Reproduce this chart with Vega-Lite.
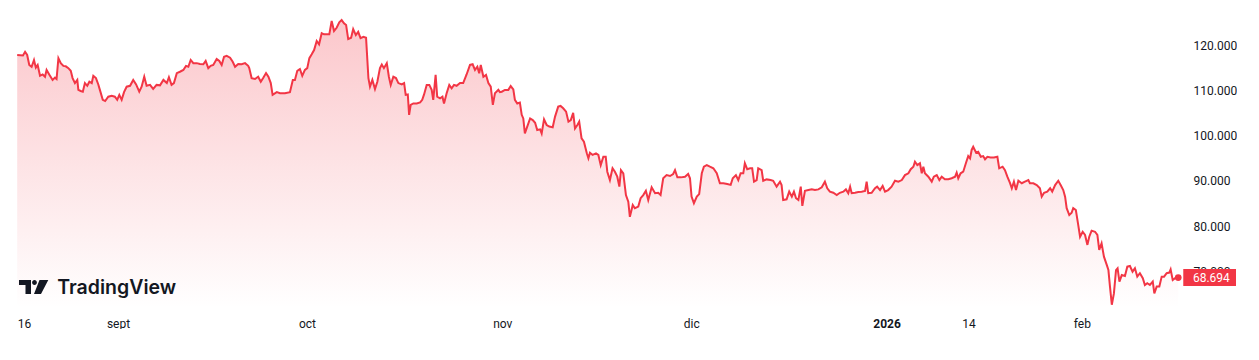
{
"$schema":"https://vega.github.io/schema/vega-lite/v6.json",
"width":1183,"height":308,"padding":0,
"autosize":{"type":"pad"},
"background":"#ffffff",
"config":{"view":{"stroke":null},"font":"Roboto","locale":{"number":{"decimal":",","thousands":".","grouping":[3],"currency":["","€"]}}},
"data":{"values":[
{"t":"2025-08-16T00:00Z","v":117800},{"t":"2025-08-16T22:00Z","v":117700},{"t":"2025-08-17T06:00Z","v":118500},{"t":"2025-08-17T14:00Z","v":117800},{"t":"2025-08-17T22:00Z","v":115600},{"t":"2025-08-18T07:00Z","v":115200},{"t":"2025-08-18T16:00Z","v":116700},{"t":"2025-08-18T23:00Z","v":115000},{"t":"2025-08-19T06:00Z","v":115600},{"t":"2025-08-19T15:00Z","v":113200},{"t":"2025-08-20T01:00Z","v":113500},{"t":"2025-08-20T10:00Z","v":113000},{"t":"2025-08-20T16:00Z","v":114500},{"t":"2025-08-21T02:00Z","v":113500},{"t":"2025-08-21T15:00Z","v":112300},{"t":"2025-08-22T00:00Z","v":112800},{"t":"2025-08-22T06:00Z","v":112500},{"t":"2025-08-22T13:00Z","v":117100},{"t":"2025-08-22T22:00Z","v":116000},{"t":"2025-08-23T08:00Z","v":115400},{"t":"2025-08-23T17:00Z","v":115300},{"t":"2025-08-24T03:00Z","v":114900},{"t":"2025-08-24T12:00Z","v":114300},{"t":"2025-08-24T19:00Z","v":112700},{"t":"2025-08-25T04:00Z","v":111600},{"t":"2025-08-25T13:00Z","v":112300},{"t":"2025-08-25T17:00Z","v":110100},{"t":"2025-08-26T02:00Z","v":109850},{"t":"2025-08-26T10:00Z","v":109700},{"t":"2025-08-26T18:00Z","v":111600},{"t":"2025-08-27T03:00Z","v":111000},{"t":"2025-08-27T11:00Z","v":111900},{"t":"2025-08-27T20:00Z","v":111600},{"t":"2025-08-28T02:00Z","v":113200},{"t":"2025-08-28T12:00Z","v":112700},{"t":"2025-08-28T21:00Z","v":111300},{"t":"2025-08-29T03:00Z","v":110100},{"t":"2025-08-29T14:00Z","v":107900},{"t":"2025-08-29T23:00Z","v":107650},{"t":"2025-08-30T11:00Z","v":108600},{"t":"2025-08-31T00:00Z","v":108800},{"t":"2025-08-31T12:00Z","v":108600},{"t":"2025-08-31T21:00Z","v":107900},
{"t":"2025-09-01T05:00Z","v":109000},{"t":"2025-09-01T14:00Z","v":107900},{"t":"2025-09-01T23:00Z","v":109600},{"t":"2025-09-02T09:00Z","v":110800},{"t":"2025-09-02T22:00Z","v":111000},{"t":"2025-09-03T10:00Z","v":112300},{"t":"2025-09-03T21:00Z","v":111300},{"t":"2025-09-04T09:00Z","v":109700},{"t":"2025-09-04T18:00Z","v":110800},{"t":"2025-09-05T04:00Z","v":113000},{"t":"2025-09-05T13:00Z","v":111000},{"t":"2025-09-06T02:00Z","v":111200},{"t":"2025-09-06T14:00Z","v":110300},{"t":"2025-09-07T03:00Z","v":111200},{"t":"2025-09-07T16:00Z","v":111100},{"t":"2025-09-08T05:00Z","v":112300},{"t":"2025-09-08T18:00Z","v":111600},{"t":"2025-09-09T02:00Z","v":112900},{"t":"2025-09-09T12:00Z","v":111200},{"t":"2025-09-09T21:00Z","v":111600},{"t":"2025-09-10T08:00Z","v":113800},{"t":"2025-09-10T20:00Z","v":114100},{"t":"2025-09-11T09:00Z","v":114500},{"t":"2025-09-11T19:00Z","v":115400},{"t":"2025-09-12T04:00Z","v":115200},{"t":"2025-09-12T13:00Z","v":116700},{"t":"2025-09-12T23:00Z","v":116000},{"t":"2025-09-13T12:00Z","v":116000},{"t":"2025-09-14T00:00Z","v":115800},{"t":"2025-09-14T13:00Z","v":115750},{"t":"2025-09-14T22:00Z","v":116500},{"t":"2025-09-15T08:00Z","v":114900},{"t":"2025-09-15T17:00Z","v":115400},{"t":"2025-09-16T03:00Z","v":115600},{"t":"2025-09-16T16:00Z","v":116900},{"t":"2025-09-17T02:00Z","v":116500},{"t":"2025-09-17T11:00Z","v":115600},{"t":"2025-09-17T20:00Z","v":117400},{"t":"2025-09-18T06:00Z","v":117600},{"t":"2025-09-18T19:00Z","v":117200},{"t":"2025-09-19T05:00Z","v":116300},{"t":"2025-09-19T14:00Z","v":115200},{"t":"2025-09-20T02:00Z","v":115800},{"t":"2025-09-20T15:00Z","v":115750},{"t":"2025-09-21T04:00Z","v":116000},{"t":"2025-09-21T16:00Z","v":115400},{"t":"2025-09-21T20:00Z","v":114900},{"t":"2025-09-22T05:00Z","v":112700},{"t":"2025-09-22T18:00Z","v":112500},{"t":"2025-09-23T06:00Z","v":113000},{"t":"2025-09-23T16:00Z","v":111900},{"t":"2025-09-24T01:00Z","v":112700},{"t":"2025-09-24T12:00Z","v":113800},{"t":"2025-09-24T21:00Z","v":113000},{"t":"2025-09-25T06:00Z","v":111600},{"t":"2025-09-25T13:00Z","v":109000},{"t":"2025-09-26T05:00Z","v":109600},{"t":"2025-09-26T17:00Z","v":109350},{"t":"2025-09-27T12:00Z","v":109350},{"t":"2025-09-28T07:00Z","v":109600},{"t":"2025-09-28T18:00Z","v":112300},{"t":"2025-09-29T02:00Z","v":112300},{"t":"2025-09-29T11:00Z","v":114300},{"t":"2025-09-29T21:00Z","v":114700},{"t":"2025-09-30T06:00Z","v":113200},{"t":"2025-09-30T16:00Z","v":114500},
{"t":"2025-10-01T01:00Z","v":114900},{"t":"2025-10-01T09:00Z","v":117100},{"t":"2025-10-01T18:00Z","v":117950},{"t":"2025-10-02T03:00Z","v":118900},{"t":"2025-10-02T13:00Z","v":120900},{"t":"2025-10-02T22:00Z","v":120150},{"t":"2025-10-03T08:00Z","v":122600},{"t":"2025-10-03T17:00Z","v":122350},{"t":"2025-10-04T03:00Z","v":122350},{"t":"2025-10-04T13:00Z","v":122350},{"t":"2025-10-04T22:00Z","v":125300},{"t":"2025-10-05T07:00Z","v":123100},{"t":"2025-10-05T17:00Z","v":123800},{"t":"2025-10-06T03:00Z","v":125000},{"t":"2025-10-06T12:00Z","v":125500},{"t":"2025-10-06T21:00Z","v":124800},{"t":"2025-10-07T05:00Z","v":124400},{"t":"2025-10-07T13:00Z","v":121300},{"t":"2025-10-08T00:00Z","v":121600},{"t":"2025-10-08T08:00Z","v":123500},{"t":"2025-10-08T18:00Z","v":122200},{"t":"2025-10-09T03:00Z","v":122900},{"t":"2025-10-09T12:00Z","v":121500},{"t":"2025-10-09T23:00Z","v":121800},{"t":"2025-10-10T09:00Z","v":121600},{"t":"2025-10-10T18:00Z","v":112700},{"t":"2025-10-11T00:00Z","v":110800},{"t":"2025-10-11T09:00Z","v":112300},{"t":"2025-10-11T19:00Z","v":110300},{"t":"2025-10-12T04:00Z","v":111900},{"t":"2025-10-12T14:00Z","v":114900},{"t":"2025-10-12T21:00Z","v":115700},{"t":"2025-10-13T05:00Z","v":114900},{"t":"2025-10-13T16:00Z","v":116000},{"t":"2025-10-14T00:00Z","v":113000},{"t":"2025-10-14T07:00Z","v":111200},{"t":"2025-10-14T17:00Z","v":113000},{"t":"2025-10-15T03:00Z","v":112700},{"t":"2025-10-15T12:00Z","v":111600},{"t":"2025-10-16T01:00Z","v":111300},{"t":"2025-10-16T10:00Z","v":111600},{"t":"2025-10-16T16:00Z","v":109000},{"t":"2025-10-17T00:00Z","v":109100},{"t":"2025-10-17T05:00Z","v":104600},{"t":"2025-10-17T11:00Z","v":106800},{"t":"2025-10-17T21:00Z","v":107100},{"t":"2025-10-18T10:00Z","v":107100},{"t":"2025-10-18T23:00Z","v":107350},{"t":"2025-10-19T07:00Z","v":107900},{"t":"2025-10-19T14:00Z","v":109100},{"t":"2025-10-20T00:00Z","v":111200},{"t":"2025-10-20T10:00Z","v":111200},{"t":"2025-10-20T19:00Z","v":110100},{"t":"2025-10-21T01:00Z","v":107900},{"t":"2025-10-21T10:00Z","v":113400},{"t":"2025-10-21T16:00Z","v":108600},{"t":"2025-10-22T03:00Z","v":108250},{"t":"2025-10-22T12:00Z","v":108600},{"t":"2025-10-22T18:00Z","v":107100},{"t":"2025-10-23T04:00Z","v":109350},{"t":"2025-10-23T14:00Z","v":111200},{"t":"2025-10-23T23:00Z","v":110450},{"t":"2025-10-24T08:00Z","v":111200},{"t":"2025-10-24T18:00Z","v":111000},{"t":"2025-10-25T07:00Z","v":111600},{"t":"2025-10-25T19:00Z","v":111600},{"t":"2025-10-26T08:00Z","v":113500},{"t":"2025-10-26T21:00Z","v":115600},{"t":"2025-10-27T07:00Z","v":115750},{"t":"2025-10-27T16:00Z","v":114500},{"t":"2025-10-28T01:00Z","v":115200},{"t":"2025-10-28T08:00Z","v":113750},{"t":"2025-10-28T14:00Z","v":115600},{"t":"2025-10-29T00:00Z","v":113000},{"t":"2025-10-29T10:00Z","v":113400},{"t":"2025-10-29T19:00Z","v":111600},{"t":"2025-10-30T04:00Z","v":110800},{"t":"2025-10-30T12:00Z","v":106800},{"t":"2025-10-30T20:00Z","v":109350},{"t":"2025-10-31T09:00Z","v":110100},{"t":"2025-10-31T15:00Z","v":109600},{"t":"2025-10-31T22:00Z","v":109700},
{"t":"2025-11-01T10:00Z","v":110100},{"t":"2025-11-01T23:00Z","v":110100},{"t":"2025-11-02T08:00Z","v":110950},{"t":"2025-11-02T18:00Z","v":110200},{"t":"2025-11-03T00:00Z","v":107900},{"t":"2025-11-03T09:00Z","v":107100},{"t":"2025-11-03T19:00Z","v":107300},{"t":"2025-11-04T02:00Z","v":104600},{"t":"2025-11-04T08:00Z","v":103800},{"t":"2025-11-04T14:00Z","v":100500},{"t":"2025-11-04T23:00Z","v":102000},{"t":"2025-11-05T10:00Z","v":103800},{"t":"2025-11-05T20:00Z","v":103450},{"t":"2025-11-06T05:00Z","v":102850},{"t":"2025-11-06T13:00Z","v":101250},{"t":"2025-11-07T00:00Z","v":101400},{"t":"2025-11-07T06:00Z","v":100500},{"t":"2025-11-07T15:00Z","v":103600},{"t":"2025-11-08T01:00Z","v":102350},{"t":"2025-11-08T11:00Z","v":102000},{"t":"2025-11-09T00:00Z","v":101850},{"t":"2025-11-09T09:00Z","v":104200},{"t":"2025-11-09T21:00Z","v":106400},{"t":"2025-11-10T06:00Z","v":106550},{"t":"2025-11-10T16:00Z","v":106050},{"t":"2025-11-11T03:00Z","v":105300},{"t":"2025-11-11T12:00Z","v":103100},{"t":"2025-11-11T21:00Z","v":103450},{"t":"2025-11-12T06:00Z","v":105050},{"t":"2025-11-12T13:00Z","v":101600},{"t":"2025-11-12T22:00Z","v":102350},{"t":"2025-11-13T05:00Z","v":103100},{"t":"2025-11-13T14:00Z","v":99400},{"t":"2025-11-13T23:00Z","v":98650},{"t":"2025-11-14T10:00Z","v":96100},{"t":"2025-11-14T16:00Z","v":95000},{"t":"2025-11-14T22:00Z","v":96250},{"t":"2025-11-15T08:00Z","v":95750},{"t":"2025-11-15T21:00Z","v":96100},{"t":"2025-11-16T06:00Z","v":95750},{"t":"2025-11-16T15:00Z","v":93500},{"t":"2025-11-17T01:00Z","v":95350},{"t":"2025-11-17T10:00Z","v":95350},{"t":"2025-11-17T16:00Z","v":92050},{"t":"2025-11-18T02:00Z","v":90200},{"t":"2025-11-18T12:00Z","v":92800},{"t":"2025-11-18T21:00Z","v":92050},{"t":"2025-11-19T06:00Z","v":90950},{"t":"2025-11-19T14:00Z","v":88750},{"t":"2025-11-19T20:00Z","v":92400},{"t":"2025-11-20T05:00Z","v":91700},{"t":"2025-11-20T15:00Z","v":86900},{"t":"2025-11-21T00:00Z","v":85450},{"t":"2025-11-21T06:00Z","v":82100},{"t":"2025-11-21T17:00Z","v":84700},{"t":"2025-11-22T01:00Z","v":84000},{"t":"2025-11-22T14:00Z","v":84350},{"t":"2025-11-22T23:00Z","v":86200},{"t":"2025-11-23T09:00Z","v":86900},{"t":"2025-11-23T19:00Z","v":87850},{"t":"2025-11-24T04:00Z","v":85800},{"t":"2025-11-24T17:00Z","v":88600},{"t":"2025-11-25T06:00Z","v":87300},{"t":"2025-11-25T18:00Z","v":87400},{"t":"2025-11-26T03:00Z","v":86900},{"t":"2025-11-26T13:00Z","v":90600},{"t":"2025-11-27T02:00Z","v":91300},{"t":"2025-11-27T15:00Z","v":91100},{"t":"2025-11-28T03:00Z","v":91550},{"t":"2025-11-28T10:00Z","v":92400},{"t":"2025-11-28T19:00Z","v":90800},{"t":"2025-11-29T08:00Z","v":90800},{"t":"2025-11-30T00:00Z","v":90950},{"t":"2025-11-30T12:00Z","v":91550},{"t":"2025-11-30T19:00Z","v":90600},
{"t":"2025-12-01T01:00Z","v":86550},{"t":"2025-12-01T10:00Z","v":85100},{"t":"2025-12-01T21:00Z","v":86550},{"t":"2025-12-02T06:00Z","v":87100},{"t":"2025-12-02T16:00Z","v":91700},{"t":"2025-12-03T00:00Z","v":93150},{"t":"2025-12-03T11:00Z","v":93500},{"t":"2025-12-03T23:00Z","v":93150},{"t":"2025-12-04T12:00Z","v":92800},{"t":"2025-12-05T01:00Z","v":91700},{"t":"2025-12-05T13:00Z","v":89500},{"t":"2025-12-06T02:00Z","v":89500},{"t":"2025-12-06T17:00Z","v":89350},{"t":"2025-12-07T06:00Z","v":89150},{"t":"2025-12-07T14:00Z","v":90600},{"t":"2025-12-08T02:00Z","v":91300},{"t":"2025-12-08T11:00Z","v":90200},{"t":"2025-12-08T20:00Z","v":91700},{"t":"2025-12-09T06:00Z","v":91700},{"t":"2025-12-09T12:00Z","v":93900},{"t":"2025-12-09T21:00Z","v":92600},{"t":"2025-12-10T08:00Z","v":92800},{"t":"2025-12-10T16:00Z","v":92800},{"t":"2025-12-10T23:00Z","v":89850},{"t":"2025-12-11T09:00Z","v":90200},{"t":"2025-12-11T15:00Z","v":92800},{"t":"2025-12-12T04:00Z","v":92400},{"t":"2025-12-12T10:00Z","v":90050},{"t":"2025-12-12T23:00Z","v":90350},{"t":"2025-12-13T14:00Z","v":90200},{"t":"2025-12-14T00:00Z","v":90050},{"t":"2025-12-14T13:00Z","v":88750},{"t":"2025-12-15T02:00Z","v":89850},{"t":"2025-12-15T08:00Z","v":89100},{"t":"2025-12-15T14:00Z","v":85800},{"t":"2025-12-16T03:00Z","v":85950},{"t":"2025-12-16T13:00Z","v":87650},{"t":"2025-12-16T23:00Z","v":86550},{"t":"2025-12-17T07:00Z","v":87650},{"t":"2025-12-17T15:00Z","v":86200},{"t":"2025-12-18T00:00Z","v":85800},{"t":"2025-12-18T09:00Z","v":88750},{"t":"2025-12-18T15:00Z","v":84500},{"t":"2025-12-19T01:00Z","v":87850},{"t":"2025-12-19T14:00Z","v":88000},{"t":"2025-12-20T03:00Z","v":88150},{"t":"2025-12-20T15:00Z","v":88000},{"t":"2025-12-21T04:00Z","v":88150},{"t":"2025-12-21T17:00Z","v":88600},{"t":"2025-12-22T05:00Z","v":89850},{"t":"2025-12-22T14:00Z","v":88400},{"t":"2025-12-23T00:00Z","v":87650},{"t":"2025-12-23T13:00Z","v":87400},{"t":"2025-12-24T02:00Z","v":86900},{"t":"2025-12-24T14:00Z","v":87400},{"t":"2025-12-25T03:00Z","v":87650},{"t":"2025-12-25T13:00Z","v":88150},{"t":"2025-12-25T22:00Z","v":87300},{"t":"2025-12-26T05:00Z","v":88750},{"t":"2025-12-26T11:00Z","v":87300},{"t":"2025-12-27T00:00Z","v":87400},{"t":"2025-12-27T12:00Z","v":87550},{"t":"2025-12-28T01:00Z","v":87650},{"t":"2025-12-28T14:00Z","v":87800},{"t":"2025-12-28T20:00Z","v":89850},{"t":"2025-12-29T02:00Z","v":87300},{"t":"2025-12-29T15:00Z","v":87400},{"t":"2025-12-30T04:00Z","v":88400},{"t":"2025-12-30T12:00Z","v":88750},{"t":"2025-12-30T23:00Z","v":88000},{"t":"2025-12-31T09:00Z","v":88900},{"t":"2025-12-31T18:00Z","v":87650},
{"t":"2026-01-01T06:00Z","v":88000},{"t":"2026-01-01T19:00Z","v":88750},{"t":"2026-01-02T08:00Z","v":90050},{"t":"2026-01-02T21:00Z","v":89850},{"t":"2026-01-03T10:00Z","v":90200},{"t":"2026-01-03T22:00Z","v":91300},{"t":"2026-01-04T11:00Z","v":91700},{"t":"2026-01-04T20:00Z","v":92600},{"t":"2026-01-05T06:00Z","v":93150},{"t":"2026-01-05T12:00Z","v":94250},{"t":"2026-01-05T21:00Z","v":93500},{"t":"2026-01-06T07:00Z","v":93900},{"t":"2026-01-06T14:00Z","v":91700},{"t":"2026-01-06T20:00Z","v":93150},{"t":"2026-01-07T02:00Z","v":91700},{"t":"2026-01-07T15:00Z","v":90950},{"t":"2026-01-08T04:00Z","v":89850},{"t":"2026-01-08T12:00Z","v":90950},{"t":"2026-01-08T23:00Z","v":91300},{"t":"2026-01-09T09:00Z","v":90200},{"t":"2026-01-09T18:00Z","v":90950},{"t":"2026-01-10T06:00Z","v":90400},{"t":"2026-01-10T19:00Z","v":90400},{"t":"2026-01-11T08:00Z","v":90600},{"t":"2026-01-11T21:00Z","v":90950},{"t":"2026-01-12T03:00Z","v":91850},{"t":"2026-01-12T09:00Z","v":90600},{"t":"2026-01-12T18:00Z","v":91700},{"t":"2026-01-13T04:00Z","v":92050},{"t":"2026-01-13T14:00Z","v":93900},{"t":"2026-01-13T23:00Z","v":95500},{"t":"2026-01-14T06:00Z","v":95000},{"t":"2026-01-14T12:00Z","v":96850},{"t":"2026-01-14T18:00Z","v":97550},{"t":"2026-01-15T05:00Z","v":96250},{"t":"2026-01-15T13:00Z","v":96450},{"t":"2026-01-15T23:00Z","v":95350},{"t":"2026-01-16T08:00Z","v":95500},{"t":"2026-01-16T15:00Z","v":94800},{"t":"2026-01-17T00:00Z","v":95350},{"t":"2026-01-17T12:00Z","v":95200},{"t":"2026-01-18T01:00Z","v":95200},{"t":"2026-01-18T14:00Z","v":95350},{"t":"2026-01-18T21:00Z","v":92800},{"t":"2026-01-19T10:00Z","v":93150},{"t":"2026-01-19T19:00Z","v":92400},{"t":"2026-01-20T04:00Z","v":90950},{"t":"2026-01-20T14:00Z","v":89600},{"t":"2026-01-20T21:00Z","v":88400},{"t":"2026-01-21T05:00Z","v":89850},{"t":"2026-01-21T13:00Z","v":88000},{"t":"2026-01-21T22:00Z","v":90050},{"t":"2026-01-22T11:00Z","v":89500},{"t":"2026-01-22T23:00Z","v":89850},{"t":"2026-01-23T12:00Z","v":90200},{"t":"2026-01-23T18:00Z","v":89500},{"t":"2026-01-24T07:00Z","v":89500},{"t":"2026-01-24T20:00Z","v":89100},{"t":"2026-01-25T08:00Z","v":88400},{"t":"2026-01-25T15:00Z","v":86550},{"t":"2026-01-26T00:00Z","v":87400},{"t":"2026-01-26T12:00Z","v":87650},{"t":"2026-01-26T23:00Z","v":88400},{"t":"2026-01-27T07:00Z","v":87650},{"t":"2026-01-27T18:00Z","v":89100},{"t":"2026-01-28T06:00Z","v":90050},{"t":"2026-01-28T15:00Z","v":89100},{"t":"2026-01-29T01:00Z","v":88000},{"t":"2026-01-29T08:00Z","v":86550},{"t":"2026-01-29T14:00Z","v":84000},{"t":"2026-01-30T00:00Z","v":82500},{"t":"2026-01-30T09:00Z","v":83000},{"t":"2026-01-30T15:00Z","v":84000},{"t":"2026-01-31T01:00Z","v":83600},{"t":"2026-01-31T10:00Z","v":80300},{"t":"2026-01-31T17:00Z","v":77700},
{"t":"2026-02-01T03:00Z","v":78800},{"t":"2026-02-01T12:00Z","v":78100},{"t":"2026-02-01T21:00Z","v":75900},{"t":"2026-02-02T04:00Z","v":77700},{"t":"2026-02-02T13:00Z","v":79050},{"t":"2026-02-03T02:00Z","v":78800},{"t":"2026-02-03T11:00Z","v":78100},{"t":"2026-02-03T18:00Z","v":74800},{"t":"2026-02-04T03:00Z","v":76250},{"t":"2026-02-04T12:00Z","v":73300},{"t":"2026-02-04T23:00Z","v":71450},{"t":"2026-02-05T05:00Z","v":70350},{"t":"2026-02-05T11:00Z","v":66700},{"t":"2026-02-05T18:00Z","v":62700},{"t":"2026-02-06T02:00Z","v":65200},{"t":"2026-02-06T10:00Z","v":70350},{"t":"2026-02-06T16:00Z","v":70750},{"t":"2026-02-06T23:00Z","v":67800},{"t":"2026-02-07T08:00Z","v":69250},{"t":"2026-02-07T20:00Z","v":69050},{"t":"2026-02-08T05:00Z","v":71100},{"t":"2026-02-08T15:00Z","v":71250},{"t":"2026-02-09T01:00Z","v":70000},{"t":"2026-02-09T10:00Z","v":70750},{"t":"2026-02-09T19:00Z","v":68900},{"t":"2026-02-10T05:00Z","v":69650},{"t":"2026-02-10T16:00Z","v":68550},{"t":"2026-02-11T00:00Z","v":67050},{"t":"2026-02-11T09:00Z","v":67450},{"t":"2026-02-11T19:00Z","v":67050},{"t":"2026-02-12T06:00Z","v":67800},{"t":"2026-02-12T12:00Z","v":65200},{"t":"2026-02-12T21:00Z","v":66700},{"t":"2026-02-13T07:00Z","v":66700},{"t":"2026-02-13T16:00Z","v":68900},{"t":"2026-02-14T01:00Z","v":68900},{"t":"2026-02-14T11:00Z","v":69650},{"t":"2026-02-14T21:00Z","v":69800},{"t":"2026-02-15T02:00Z","v":70500},{"t":"2026-02-15T10:00Z","v":68150},{"t":"2026-02-15T19:00Z","v":68550},{"t":"2026-02-16T07:00Z","v":68694}
]},
"encoding":{
"x":{"field":"t","type":"temporal",
"scale":{"type":"utc","domain":[{"year":2025,"month":8,"date":13,"hours":6,"minutes":30,"utc":true},{"year":2026,"month":2,"date":17,"hours":1,"minutes":10,"utc":true}]},
"axis":{"values":[{"year":2025,"month":8,"date":16,"utc":true},{"year":2025,"month":9,"date":1,"utc":true},{"year":2025,"month":10,"date":1,"utc":true},{"year":2025,"month":11,"date":1,"utc":true},{"year":2025,"month":12,"date":1,"utc":true},{"year":2026,"month":1,"date":1,"utc":true},{"year":2026,"month":1,"date":14,"utc":true},{"year":2026,"month":2,"date":1,"utc":true}],
"labelExpr":"utcdate(datum.value) == 16 ? '16' : utcdate(datum.value) == 14 ? '14' : utcmonth(datum.value) == 0 ? '2026' : ['ene','feb','mar','abr','may','jun','jul','ago','sept','oct','nov','dic'][utcmonth(datum.value)]",
"labelFontWeight":{"condition":{"test":"utcmonth(datum.value) == 0 && utcdate(datum.value) == 1","value":"bold"},"value":"normal"},
"labelAlign":{"condition":{"test":"utcdate(datum.value) == 16","value":"left"},"value":"center"},
"ticks":false,"domain":false,"grid":false,"title":null,"labelPadding":10,"labelFontSize":12,"labelColor":"#131722","labelOverlap":false,"labelFlush":false,"zindex":1}},
"y":{"field":"v","type":"quantitative",
"scale":{"domain":[61980,129930],"nice":false,"zero":false},
"axis":{"orient":"right","values":[70000,80000,90000,100000,110000,120000],"format":",d","ticks":false,"domain":false,"grid":false,"title":null,"labelPadding":10,"labelFontSize":12,"labelColor":"#131722","labelAlign":"left","zindex":0}}
},
"layer":[
{"mark":{"type":"area","color":{"gradient":"linear","x1":0,"y1":1,"x2":0,"y2":0,"stops":[{"offset":0,"color":"rgba(242,54,69,0.0)"},{"offset":1,"color":"rgba(242,54,69,0.28)"}]}},"encoding":{"y2":{"datum":61980}}},
{"mark":{"type":"line","color":"#F23645","strokeWidth":2}},
{"transform":[{"filter":"datum.v == 68694"}],"mark":{"type":"point","filled":true,"opacity":1,"size":45,"color":"#F23645"}},
{"transform":[{"filter":"datum.v == 68694"}],"mark":{"type":"point","filled":true,"opacity":1,"size":2809,"shape":"M0.19,-0.32H2.18V0.32H0.19Z","color":"#F23645"}},
{"transform":[{"filter":"datum.v == 68694"}],"mark":{"type":"text","align":"left","baseline":"middle","dx":14.7,"color":"#FFFFFF","fontSize":12},"encoding":{"text":{"field":"v","type":"quantitative","format":",d"}}},
{"transform":[{"filter":"datum.v == 68694"}],"mark":{"type":"point","filled":true,"opacity":1,"size":400,"color":"#131722","shape":"M-3.6,-1.4H-2.4V0H-2.95V-0.9H-3.6Z M-2.29,-1.15A0.24,0.24 0 1,1 -1.81,-1.15A0.24,0.24 0 1,1 -2.29,-1.15Z M-1.55,-1.4H-0.67L-1.4,0H-2.1Z"},
 "encoding":{"x":{"datum":{"year":2025,"month":8,"date":22,"utc":true},"type":"temporal"},"y":{"datum":65070,"type":"quantitative"}}},
{"transform":[{"filter":"datum.v == 68694"}],"mark":{"type":"text","text":"TradingView","align":"left","baseline":"alphabetic","dx":2.3,"font":"Inter","fontSize":19.5,"fontWeight":600,"color":"#131722"},
 "encoding":{"x":{"datum":{"year":2025,"month":8,"date":22,"utc":true},"type":"temporal"},"y":{"datum":65070,"type":"quantitative"}}}
]
}
